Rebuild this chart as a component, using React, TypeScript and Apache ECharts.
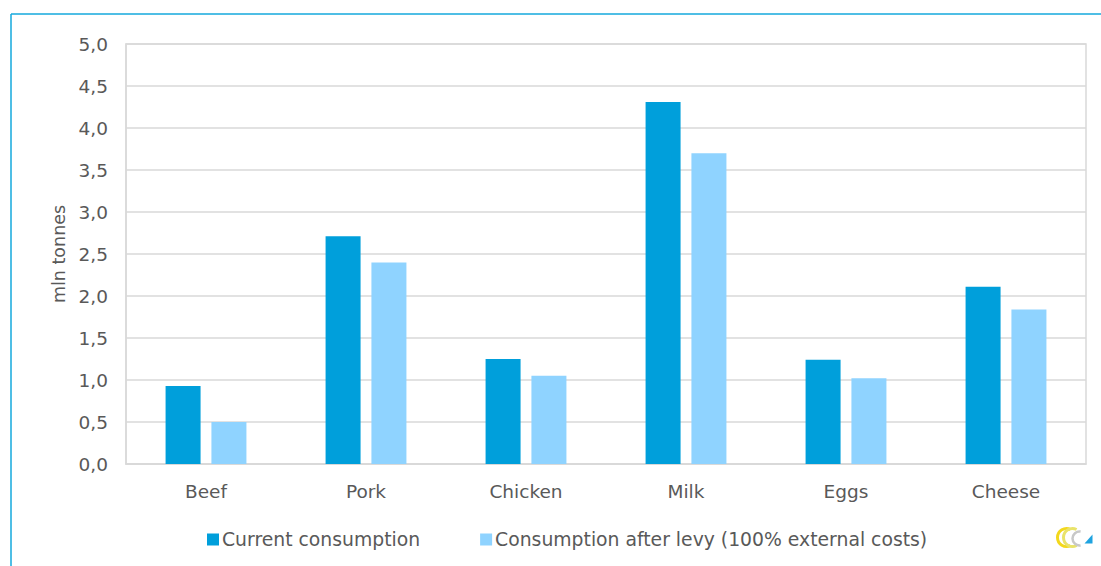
import React, { useEffect, useRef } from "react";
import * as echarts from "echarts";

const categories = ["Beef", "Pork", "Chicken", "Milk", "Eggs", "Cheese"];
const currentConsumption = [0.93, 2.71, 1.25, 4.31, 1.24, 2.11];
const afterLevy = [0.5, 2.4, 1.05, 3.7, 1.02, 1.84];
const seriesNames = ["Current consumption", "Consumption after levy (100% external costs)"];

const FONT = "DejaVu Sans";
const TEXT = "#595959";

export default function App() {
  const ref = useRef<HTMLDivElement>(null);

  useEffect(() => {
    document.body.style.margin = "0";
    const chart = echarts.init(ref.current!, null, { renderer: "svg" });
    chart.setOption({
      animation: false,
      backgroundColor: "#ffffff",
      textStyle: { fontFamily: FONT },
      grid: {
        left: 126,
        right: 15,
        top: 44,
        bottom: 102,
        show: true,
        borderColor: "#d9d9d9",
        borderWidth: 1.5,
      },
      legend: {
        bottom: 12,
        left: 202,
        itemWidth: 12,
        itemHeight: 12,
        itemGap: 60,
        icon: "rect",
        textStyle: { color: TEXT, fontSize: 18.8, fontFamily: FONT, padding: [0, 0, 0, -2] },
        data: seriesNames,
      },
      xAxis: {
        type: "category",
        data: categories,
        axisTick: { show: false },
        axisLine: { lineStyle: { color: "#d9d9d9", width: 1.5 } },
        axisLabel: { color: TEXT, fontSize: 18.5, margin: 18 },
      },
      yAxis: {
        type: "value",
        min: 0,
        max: 5,
        interval: 0.5,
        name: "mln tonnes",
        nameLocation: "middle",
        nameGap: 58,
        nameTextStyle: { color: TEXT, fontSize: 17.5 },
        axisLine: { show: true, lineStyle: { color: "#d9d9d9", width: 1.5 } },
        splitLine: { lineStyle: { color: "#d9d9d9", width: 1.5 } },
        axisLabel: {
          color: TEXT,
          fontSize: 18.5,
          margin: 18,
          formatter: (v: number) => v.toFixed(1).replace(".", ","),
        },
      },
      series: [
        {
          name: seriesNames[0],
          type: "bar",
          data: currentConsumption,
          barWidth: 35,
          barGap: "31%",
          itemStyle: { color: "#009fdb" },
        },
        {
          name: seriesNames[1],
          type: "bar",
          data: afterLevy,
          barWidth: 35,
          itemStyle: { color: "#8fd3ff" },
        },
      ],
      graphic: [
        {
          type: "line",
          shape: { x1: 11, y1: 14, x2: 1101, y2: 14 },
          style: { stroke: "#14a9dc", lineWidth: 1.5 },
        },
        {
          type: "line",
          shape: { x1: 11, y1: 14, x2: 11, y2: 566 },
          style: { stroke: "#14a9dc", lineWidth: 1.5 },
        },
        {
          type: "group",
          left: 1055,
          top: 526,
          children: [
            {
              type: "arc",
              shape: { cx: 11, cy: 12, r: 9, startAngle: Math.PI * 0.35, endAngle: Math.PI * 1.65 },
              style: { stroke: "#f3d81c", lineWidth: 3, fill: "none" },
            },
            {
              type: "arc",
              shape: { cx: 17, cy: 12, r: 9, startAngle: Math.PI * 0.35, endAngle: Math.PI * 1.65 },
              style: { stroke: "#e9e36a", lineWidth: 3, fill: "none" },
            },
            {
              type: "arc",
              shape: { cx: 24, cy: 13, r: 7, startAngle: Math.PI * 0.45, endAngle: Math.PI * 1.55 },
              style: { stroke: "#c8c8c8", lineWidth: 2.5, fill: "none" },
            },
            {
              type: "polygon",
              shape: { points: [[29, 18], [37, 18], [37, 9]] },
              style: { fill: "#1fa3e0" },
            },
          ],
        },
      ],
    });
    return () => chart.dispose();
  }, []);

  return <div ref={ref} style={{ width: 1101, height: 566, position: "absolute", left: 0, top: 0 }} />;
}
